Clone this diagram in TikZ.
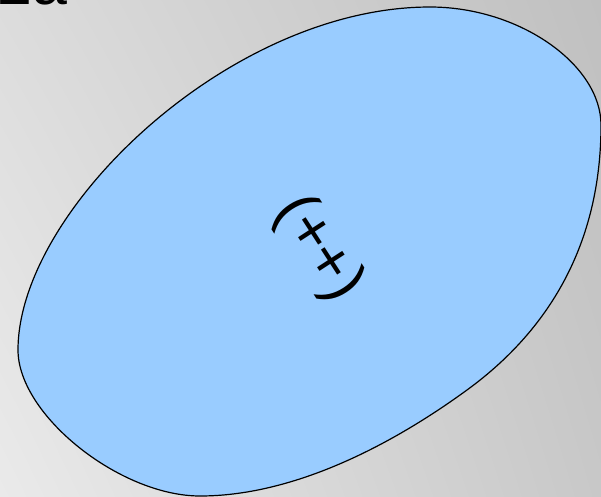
\documentclass[tikz,border=0pt]{standalone}
\usepackage{fontspec}
\setmainfont{Liberation Sans}
\usetikzlibrary{shadings}
\definecolor{blobblue}{HTML}{99CCFF}
\definecolor{bgtl}{HTML}{DCDCDC}
\definecolor{bgtr}{HTML}{C0C0C0}
\definecolor{bgbl}{HTML}{EAEAEA}
\definecolor{bgbr}{HTML}{C8C8C8}
\begin{document}
\begin{tikzpicture}[x=0.75pt,y=0.75pt,yscale=-1,xscale=1]
        \useasboundingbox (0,0) rectangle (601,497);
        \clip (0,0) rectangle (601,497);
        \shade [upper left=bgtl, upper right=bgtr, lower left=bgbl, lower right=bgbr] (0,0) rectangle (601,497);
        \draw [fill=blobblue, line width=0.9] (430,7) .. controls (520,7) and (601,65) .. (601,125)
            .. controls (601,245) and (548,331) .. (467,390)
            .. controls (386,449) and (290,496) .. (200,496)
            .. controls (120,496) and (18,415) .. (18,350)
            .. controls (18,210) and (230,7) .. (430,7) -- cycle;
        \node (tag) [anchor=base west, inner sep=0pt] at (-3,4) {\fontsize{47}{50}\selectfont 2a};
        \node (mid) [rotate=-57, inner sep=0pt] at (318,249) {\fontsize{46}{50}\selectfont (++)};
    \end{tikzpicture}
\end{document}
